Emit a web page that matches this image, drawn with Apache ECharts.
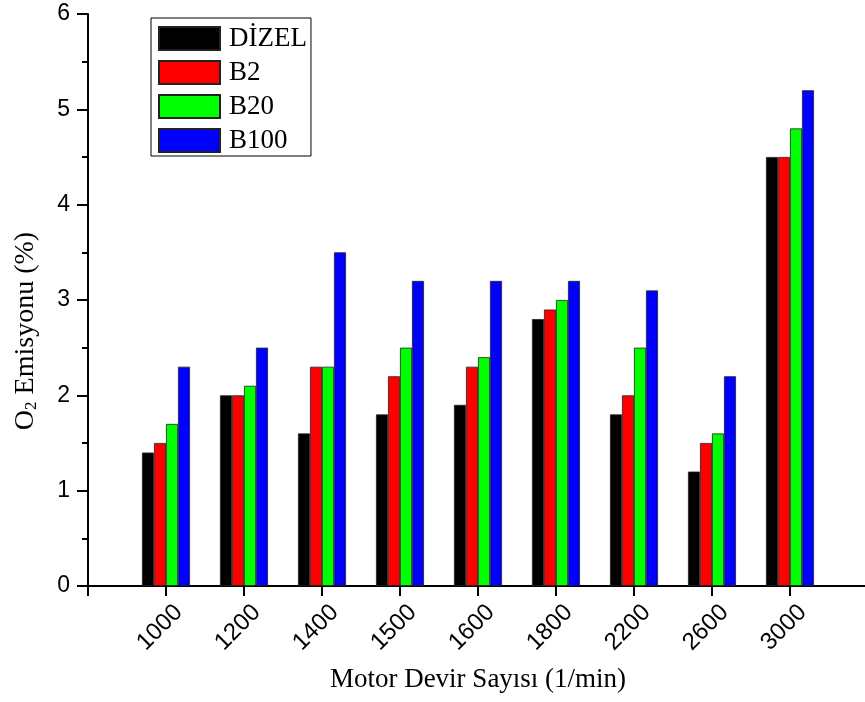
<!DOCTYPE html>
<html>
<head>
<meta charset="utf-8">
<script src="https://cdn.jsdelivr.net/npm/echarts@6/dist/echarts.min.js"></script>
<style>html,body{margin:0;padding:0;background:#fff;}#c{width:865px;height:702px;}</style>
</head>
<body>
<div id="c"></div>
<script>
const categories = ['1000', '1200', '1400', '1500', '1600', '1800', '2200', '2600', '3000'];
const seriesNames = ['DİZEL', 'B2', 'B20', 'B100'];
const dizel = [1.4, 2.0, 1.6, 1.8, 1.9, 2.8, 1.8, 1.2, 4.5];
const b2    = [1.5, 2.0, 2.3, 2.2, 2.3, 2.9, 2.0, 1.5, 4.5];
const b20   = [1.7, 2.1, 2.3, 2.5, 2.4, 3.0, 2.5, 1.6, 4.8];
const b100  = [2.3, 2.5, 3.5, 3.2, 3.2, 3.2, 3.1, 2.2, 5.2];
const colors = ['#000000', '#ff0000', '#00ff00', '#0000ff'];

const chart = echarts.init(document.getElementById('c'), null, {renderer: 'canvas'});
const allData = [dizel, b2, b20, b100];
const sansFont = '"Liberation Sans", Arial, sans-serif';
const serifFont = '"Liberation Serif", "Times New Roman", serif';

chart.setOption({
  animation: false,
  backgroundColor: '#ffffff',
  grid: {left: 88, top: 14, width: 780, height: 572, containLabel: false, outerBoundsMode: 'none'},
  legend: {
    left: 151, top: 18,
    orient: 'vertical',
    data: seriesNames,
    icon: 'rect',
    itemWidth: 61, itemHeight: 23, itemGap: 7,
    padding: [7, 4, 2, 7],
    borderColor: '#000', borderWidth: 1, borderRadius: 0,
    backgroundColor: '#fff',
    textStyle: {fontFamily: serifFont, fontSize: 27, lineHeight: 27, color: '#000', padding: [0, 0, 0, 4]}
  },
  xAxis: {
    type: 'value', min: 0, max: 10, interval: 1,
    name: 'Motor Devir Sayısı (1/min)',
    nameLocation: 'middle', nameGap: 80,
    nameTextStyle: {fontFamily: serifFont, fontSize: 27, color: '#000'},
    axisLine: {show: true, onZero: false, lineStyle: {color: '#000', width: 2}},
    axisTick: {show: true, inside: false, length: 10, lineStyle: {color: '#000', width: 2}},
    splitLine: {show: false},
    axisLabel: {
      rotate: 45, margin: 10, verticalAlign: 'top', padding: [6, 0, 0, 0],
      fontFamily: sansFont, fontSize: 24, color: '#000',
      formatter: v => categories[v - 1] || ''
    }
  },
  yAxis: {
    type: 'value', min: 0, max: 6, interval: 1,
    name: 'O{sub|2} Emisyonu (%)',
    nameLocation: 'middle', nameGap: 48, nameRotate: 90,
    nameTextStyle: {
      fontFamily: serifFont, fontSize: 28, color: '#000', padding: [0, 62, 0, 0],
      rich: {sub: {fontFamily: serifFont, fontSize: 17, color: '#000', verticalAlign: 'bottom', padding: [10, 0, 0, 0]}}
    },
    axisLine: {show: true, lineStyle: {color: '#000', width: 2}},
    axisTick: {show: true, inside: false, length: 11, lineStyle: {color: '#000', width: 2}},
    minorTick: {show: true, splitNumber: 2, length: 6, lineStyle: {color: '#000', width: 2}},
    splitLine: {show: false},
    axisLabel: {margin: 18, fontFamily: sansFont, fontSize: 23, color: '#000'}
  },
  series: seriesNames.map((name, k) => ({
    name: name,
    type: 'bar',
    barWidth: 12,
    barGap: '0%',
    itemStyle: {color: colors[k], borderColor: '#222', borderWidth: 0.8},
    data: categories.map((c, i) => [i + 1, allData[k][i]])
  }))
});
</script>
</body>
</html>
